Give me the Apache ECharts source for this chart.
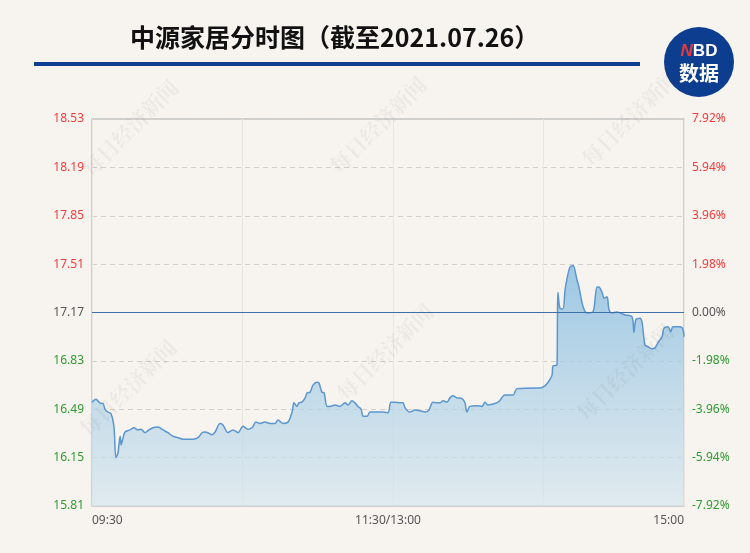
<!DOCTYPE html>
<html>
<head>
<meta charset="utf-8">
<script src="https://cdn.jsdelivr.net/npm/echarts@6/dist/echarts.min.js"></script>
<style>
html,body{margin:0;padding:0;background:#f7f4f0;}
#c{width:750px;height:553px;}
</style>
</head>
<body>
<div id="c"></div>
<script>
const prevClose = 17.17;
const times = [0,1.6,3.2,4.5,5.3,6.5,7.7,8.9,9.7,10.5,11.4,11.8,12.6,13.4,15.4,17.0,18.6,19.9,21.5,22.7,24.7,26.8,28.8,30.8,32.8,34.9,36.9,38.9,40.9,43.0,44.6,45.8,47.0,48.6,49.9,51.9,53.1,55.1,57.2,59.2,61.2,63.2,64.9,66.5,68.1,70.1,72.2,74.2,75.4,77.4,79.5,81.1,81.9,83.1,83.9,85.1,86.4,87.2,88.4,89.6,91.2,92.0,93.2,94.1,95.3,96.5,98.5,100.5,102.6,103.8,105.4,106.6,107.8,109.1,109.9,111.5,112.7,115.5,118.0,120.0,121.2,122.8,124.9,126.1,126.9,128.9,130.9,133.0,135.0,136.6,138.2,139.9,141.1,142.3,143.9,145.1,146.3,148.0,150.0,151.2,152.0,153.2,156.1,158.1,159.3,160.5,163.4,165.0,167.4,170.7,172.3,180.4,181.6,183.6,184.9,186.5,186.9,188.5,188.7,188.9,189.7,190.9,191.8,192.6,193.8,195.0,196.6,197.4,199.1,200.7,203.1,204.7,205.5,206.8,207.6,208.8,209.6,210.8,212.8,214.1,216.1,218.9,219.7,220.5,222.2,223.0,224.2,225.4,227.0,228.2,229.5,231.1,231.9,233.5,234.7,235.5,238.4,239.6,240];
const prices = [16.54,16.56,16.535,16.53,16.49,16.47,16.46,16.37,16.15,16.18,16.30,16.24,16.29,16.33,16.345,16.36,16.345,16.35,16.325,16.34,16.36,16.365,16.345,16.325,16.30,16.29,16.28,16.28,16.28,16.29,16.325,16.33,16.325,16.31,16.33,16.39,16.38,16.325,16.345,16.325,16.37,16.35,16.36,16.40,16.39,16.40,16.39,16.39,16.415,16.39,16.40,16.47,16.535,16.51,16.535,16.54,16.57,16.605,16.61,16.66,16.68,16.675,16.61,16.605,16.51,16.51,16.52,16.51,16.535,16.52,16.55,16.535,16.51,16.49,16.44,16.44,16.47,16.47,16.47,16.465,16.54,16.54,16.535,16.535,16.50,16.47,16.485,16.48,16.47,16.485,16.54,16.535,16.535,16.55,16.54,16.57,16.585,16.57,16.565,16.535,16.47,16.51,16.515,16.51,16.54,16.52,16.53,16.545,16.59,16.59,16.635,16.64,16.64,16.655,16.68,16.73,16.795,16.80,17.14,17.31,17.20,17.195,17.33,17.41,17.49,17.50,17.40,17.35,17.21,17.167,17.174,17.35,17.35,17.31,17.27,17.28,17.19,17.167,17.174,17.167,17.153,17.14,17.03,17.12,17.13,17.10,16.94,16.93,16.915,16.92,16.96,17.00,17.06,17.07,17.035,17.07,17.07,17.05,17.00];
const leftTickLabels = ['15.81','16.15','16.49','16.83','17.17','17.51','17.85','18.19','18.53'];
const rightTickLabels = ['-7.92%','-5.94%','-3.96%','-1.98%','0.00%','1.98%','3.96%','5.94%','7.92%'];
const xTickLabels = ['09:30','11:30/13:00','15:00'];

const RED = '#f23b3b', GREEN = '#2f9a2f', GREY = '#555555';
function tickIdx(v){ return Math.round(v / 1.98) + 4; }
function tickColor(v){ const i = tickIdx(v); return i > 4 ? RED : (i < 4 ? GREEN : GREY); }

const seriesData = times.map((t, i) => [t, (prices[i] / prevClose - 1) * 100]);

const chart = echarts.init(document.getElementById('c'), null, {renderer: 'canvas'});

const wmStyle = {text: '每日经济新闻', fill: 'rgba(60,60,60,0.06)', font: 'bold 21px "Noto Serif CJK SC", "Noto Sans CJK SC", serif'};
const wmPos = [[130,128],[378,125],[630,118],[128,388],[385,352],[625,372]];

option = {
  backgroundColor: '#f7f4f0',
  animation: false,
  title: {
    text: '中源家居分时图（截至2021.07.26）',
    left: 125, top: 20,
    textStyle: {fontSize: 25, fontWeight: 'bold', color: '#111', fontFamily: '"Noto Sans CJK SC", sans-serif'}
  },
  grid: {left: 92, right: 66, top: 119, bottom: 47, show: true, borderColor: '#c4c4c4', borderWidth: 1.5, backgroundColor: 'transparent'},
  xAxis: [
    {
      type: 'value', min: 0, max: 240, interval: 61,
      axisLine: {show: false}, axisTick: {show: false}, axisLabel: {show: false},
      splitLine: {show: true, lineStyle: {color: '#e9e5e0', width: 1, type: 'solid'}}
    },
    {
      type: 'value', min: 0, max: 240, interval: 120, position: 'bottom',
      axisLine: {show: false}, axisTick: {show: false}, splitLine: {show: false},
      axisLabel: {
        show: true, margin: 9, color: '#555', fontSize: 12, fontFamily: '"Noto Sans", sans-serif',
        alignMinLabel: 'left', alignMaxLabel: 'right',
        formatter: v => xTickLabels[Math.round(v / 120)]
      }
    }
  ],
  yAxis: [
    {
      type: 'value', min: -7.92, max: 7.92, interval: 1.98, position: 'left',
      axisLine: {show: false}, axisTick: {show: false},
      splitLine: {show: true, lineStyle: {color: '#d2cfcb', type: [5, 4], width: 1}},
      axisLabel: {
        margin: 8, fontSize: 12, fontFamily: '"Noto Sans", sans-serif',
        formatter: v => leftTickLabels[tickIdx(v)],
        color: v => tickColor(v)
      }
    },
    {
      type: 'value', min: -7.92, max: 7.92, interval: 1.98, position: 'right',
      axisLine: {show: false}, axisTick: {show: false}, splitLine: {show: false},
      axisLabel: {
        margin: 8, fontSize: 12, fontFamily: '"Noto Sans", sans-serif',
        formatter: v => rightTickLabels[tickIdx(v)],
        color: v => tickColor(v)
      }
    }
  ],
  series: [{
    type: 'line', xAxisIndex: 0, yAxisIndex: 0,
    data: seriesData, showSymbol: false, smooth: 0.3,
    lineStyle: {color: '#5b96cf', width: 1.5},
    areaStyle: {
      origin: 'start',
      color: new echarts.graphic.LinearGradient(0, 0, 0, 1, [
        {offset: 0, color: '#78b5de'},
        {offset: 0.5, color: '#aacfe6'},
        {offset: 1, color: '#d6e6ee'}
      ])
    },
    markLine: {
      silent: true, symbol: 'none', label: {show: false},
      lineStyle: {color: '#3d6fa8', type: 'solid', width: 1},
      data: [{yAxis: 0}]
    }
  }],
  graphic: [
    {type: 'rect', left: 34, top: 62, shape: {width: 606, height: 4}, style: {fill: '#0e3e92'}},
    {type: 'circle', shape: {cx: 699, cy: 62, r: 35}, style: {fill: '#0d3d8e'}},
    {type: 'text', x: 699, y: 51, style: {text: '{n|N}{w|BD}', align: 'center', verticalAlign: 'middle',
      rich: {n: {fill: '#e83a3a', font: 'italic bold 17px "Liberation Sans", sans-serif'}, w: {fill: '#fff', font: 'bold 17px "Liberation Sans", sans-serif'}}}},
    {type: 'text', x: 699, y: 73, style: {text: '数据', fill: '#fff', align: 'center', verticalAlign: 'middle', font: 'bold 20px "Noto Sans CJK SC", sans-serif'}}
  ].concat(wmPos.map(p => ({type: 'text', x: p[0], y: p[1], rotation: Math.PI / 4, z: 100, silent: true,
      style: Object.assign({align: 'center', verticalAlign: 'middle'}, wmStyle)})))
};
chart.setOption(option);
</script>
</body>
</html>
